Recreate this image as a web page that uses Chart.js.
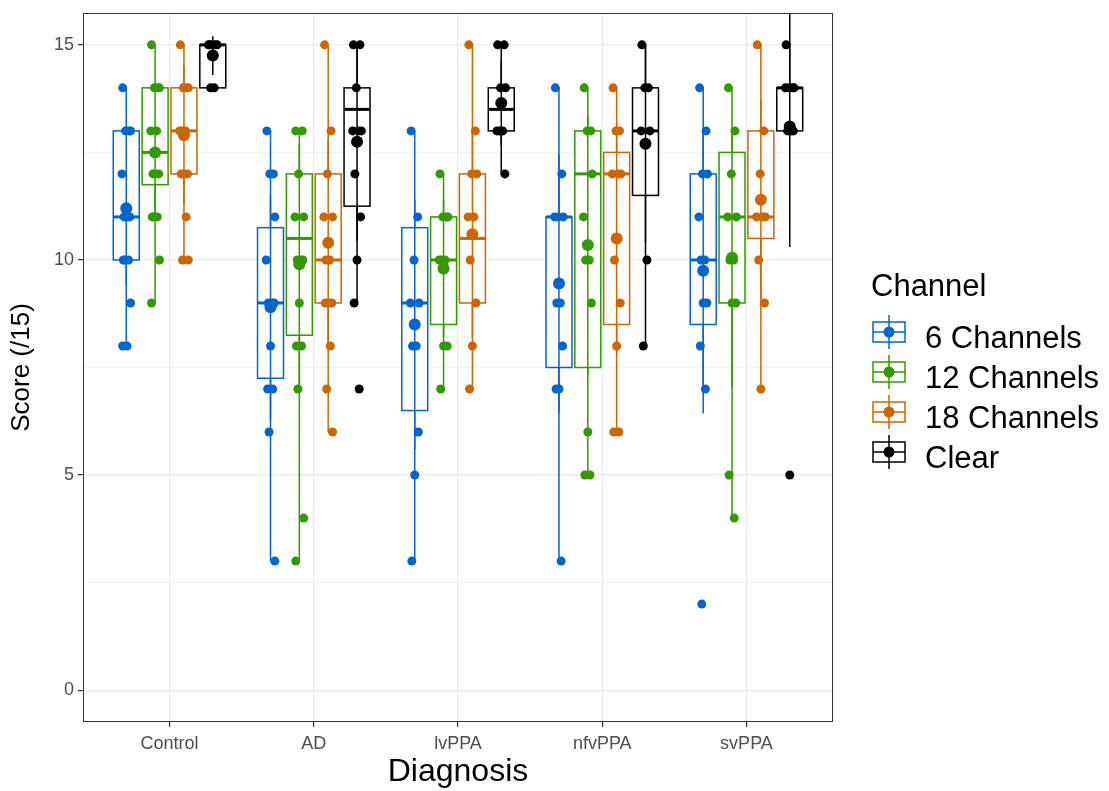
<!DOCTYPE html>
<html>
<head>
<meta charset="utf-8">
<script src="https://cdn.jsdelivr.net/npm/chart.js@4.4.1/dist/chart.umd.min.js"></script>
<style>
  body { margin: 0; background: #fff; font-family: "Liberation Sans", Arial, sans-serif; }
  #wrap { position: relative; width: 1109px; height: 791px; }
  #legend { position: absolute; left: 0; top: 0; }
  .lg-title, .lg-text { position: absolute; font-size: 31px; line-height: 31px; color: #000; white-space: nowrap; }
  .lg-key { position: absolute; }
</style>
</head>
<body>
<div id="wrap">
  <canvas id="chart" width="1109" height="791"></canvas>
  <div id="legend"></div>
</div>
<script>
const diagnoses = ["Control", "AD", "lvPPA", "nfvPPA", "svPPA"];
const channels = ["6 Channels", "12 Channels", "18 Channels", "Clear"];
const colors = ["#0066CC", "#339900", "#CC6600", "#000000"];
const yTicks = [0, 2.5, 5, 7.5, 10, 12.5, 15];

// box stats per diagnosis: [lower whisker, q1, median, q3, upper whisker]
const box6     = [[8, 10, 11, 13, 14], [3, 7.25, 9, 10.75, 13], [3, 6.5, 9, 10.75, 13], [3, 7.5, 11, 11, 14], [7, 8.5, 10, 12, 14]];
const box12    = [[9, 11.75, 12.5, 14, 15], [3, 8.25, 10.5, 12, 13], [7, 8.5, 10, 11, 12], [5, 7.5, 12, 13, 14], [4, 9, 11, 12.5, 14]];
const box18    = [[10, 12, 13, 14, 15], [6, 9, 10, 12, 15], [7, 9, 10.5, 12, 15], [6, 8.5, 12, 12.5, 14], [7, 10.5, 11, 13, 15]];
const boxClear = [[14, 14, 15, 15, 15], [9, 11.25, 13.5, 14, 15], [12, 13, 13.5, 14, 15], [8, 11.5, 13, 14, 15], [13, 13, 14, 14, 15]];

// means and mean +/- sd
const mean6     = [11.2, 8.9, 8.5, 9.45, 9.75];
const mean12    = [12.5, 9.9, 9.8, 10.35, 10.05];
const mean18    = [12.9, 10.4, 10.6, 10.5, 11.4];
const meanClear = [14.75, 12.75, 13.65, 12.7, 13.1];
const lo6     = [9.4, 6.3, 5.6, 6.45, 6.43];
const hi6     = [13.0, 11.5, 11.4, 12.45, 13.07];
const lo12    = [11.0, 7.1, 8.2, 7.35, 7.05];
const hi12    = [14.0, 12.7, 11.4, 13.35, 13.05];
const lo18    = [11.3, 8.0, 8.2, 7.8, 9.1];
const hi18    = [14.5, 12.8, 13.0, 13.2, 13.7];
const loClear = [14.3, 10.45, 12.65, 10.4, 10.3];
const hiClear = [15.2, 15.05, 14.65, 15.0, 15.9];

// individual scores
const pts6 = [
  [14, 13, 13, 13, 12, 11, 11, 11, 11, 10, 10, 10, 9, 8, 8],
  [13, 12, 12, 11, 10, 9, 9, 9, 8, 7, 7, 6, 3],
  [13, 11, 10, 9, 9, 8, 8, 6, 5, 3],
  [14, 12, 11, 11, 11, 9, 9, 8, 7, 7, 3],
  [14, 13, 12, 12, 11, 10, 10, 9, 9, 8, 7, 2]
];
const pts12 = [
  [15, 14, 14, 14, 13, 13, 12, 12, 12, 11, 11, 11, 10, 9],
  [13, 13, 12, 11, 11, 10, 10, 10, 9, 8, 8, 7, 4, 3],
  [12, 11, 11, 11, 10, 10, 10, 8, 8, 7],
  [14, 13, 13, 12, 11, 10, 10, 9, 6, 5, 5],
  [14, 13, 12, 11, 11, 10, 10, 9, 9, 5, 4]
];
const pts18 = [
  [15, 14, 14, 14, 13, 13, 13, 12, 12, 12, 11, 10, 10],
  [15, 13, 12, 11, 11, 10, 10, 9, 9, 9, 8, 7, 6],
  [15, 13, 12, 12, 11, 11, 10, 9, 8, 7],
  [14, 13, 13, 12, 12, 12, 10, 9, 8, 6, 6],
  [15, 13, 12, 11, 11, 11, 10, 9, 7]
];
const ptsClear = [
  [15, 15, 15, 15, 15, 14, 14],
  [15, 15, 14, 13, 13, 13, 12, 11, 10, 9, 7],
  [15, 15, 14, 14, 13, 13, 13, 12],
  [15, 14, 14, 13, 13, 10, 8],
  [15, 14, 14, 14, 14, 13, 13, 13, 5]
];

// fixed horizontal jitter pattern (units of x)
const jitter = [-0.025, 0.02, -0.005, 0.03, -0.03, 0.01, -0.015, 0.025, 0.0, -0.02, 0.015, -0.01, 0.03, -0.025, 0.005];
const dodge = [-0.3, -0.1, 0.1, 0.3];
const boxWidth = 0.18;

const series = [
  { box: box6, mean: mean6, lo: lo6, hi: hi6, pts: pts6 },
  { box: box12, mean: mean12, lo: lo12, hi: hi12, pts: pts12 },
  { box: box18, mean: mean18, lo: lo18, hi: hi18, pts: pts18 },
  { box: boxClear, mean: meanClear, lo: loClear, hi: hiClear, pts: ptsClear }
];

const pointSets = series.map((s, c) => ({
  label: channels[c],
  data: s.pts.flatMap((vals, i) => vals.map((v, k) => ({ x: i + 1 + dodge[c] + jitter[k % jitter.length], y: v }))),
  backgroundColor: colors[c],
  borderWidth: 0,
  pointRadius: 4.5
}));
const meanSets = series.map((s, c) => ({
  label: channels[c] + " mean",
  data: s.mean.map((m, i) => ({ x: i + 1 + dodge[c], y: m })),
  backgroundColor: colors[c],
  borderWidth: 0,
  pointRadius: 6
}));

const boxPlugin = {
  id: "boxes",
  beforeDatasetsDraw(chart) {
    const { ctx, chartArea, scales: { x, y } } = chart;
    ctx.save();
    ctx.beginPath();
    ctx.rect(chartArea.left, chartArea.top, chartArea.width, chartArea.height);
    ctx.clip();
    series.forEach((s, c) => {
      s.box.forEach((b, i) => {
        const [lo, q1, med, q3, hi] = b;
        const pos = i + 1 + dodge[c];
        const cx = x.getPixelForValue(pos);
        const x0 = x.getPixelForValue(pos - boxWidth / 2);
        const x1 = x.getPixelForValue(pos + boxWidth / 2);
        ctx.strokeStyle = colors[c];
        ctx.lineWidth = 1.5;
        ctx.beginPath();
        ctx.moveTo(cx, y.getPixelForValue(lo));
        ctx.lineTo(cx, y.getPixelForValue(q1));
        ctx.moveTo(cx, y.getPixelForValue(q3));
        ctx.lineTo(cx, y.getPixelForValue(hi));
        ctx.stroke();
        const yt = y.getPixelForValue(q3), yb = y.getPixelForValue(q1);
        ctx.fillStyle = "#fff";
        ctx.fillRect(x0, yt, x1 - x0, yb - yt);
        ctx.strokeRect(x0, yt, x1 - x0, yb - yt);
        ctx.lineWidth = 3;
        ctx.beginPath();
        ctx.moveTo(x0, y.getPixelForValue(med));
        ctx.lineTo(x1, y.getPixelForValue(med));
        ctx.stroke();
        // mean +/- sd
        ctx.lineWidth = 1.5;
        ctx.beginPath();
        ctx.moveTo(cx, y.getPixelForValue(s.lo[i]));
        ctx.lineTo(cx, y.getPixelForValue(s.hi[i]));
        ctx.stroke();
      });
    });
    ctx.restore();
  },
  afterDraw(chart) {
    const { ctx, chartArea } = chart;
    ctx.save();
    ctx.strokeStyle = "#333333";
    ctx.lineWidth = 1;
    ctx.strokeRect(chartArea.left + 0.5, chartArea.top + 0.5, chartArea.width - 1, chartArea.height - 1);
    ctx.restore();
  }
};

new Chart(document.getElementById("chart"), {
  type: "scatter",
  data: { datasets: [...pointSets, ...meanSets] },
  options: {
    responsive: false,
    animation: false,
    layout: { padding: { top: 12, right: 276, left: 0, bottom: 0 } },
    plugins: { legend: { display: false }, tooltip: { enabled: false } },
    scales: {
      x: {
        type: "linear",
        min: 0.4,
        max: 5.6,
        afterBuildTicks: (axis) => { axis.ticks = diagnoses.map((d, i) => ({ value: i + 1 })); },
        afterFit: (axis) => { axis.height = 69; },
        ticks: {
          autoSkip: false,
          maxRotation: 0,
          padding: 6,
          color: "#4d4d4d",
          font: { family: "Liberation Sans", size: 18 },
          callback: (v) => diagnoses[v - 1]
        },
        grid: { color: "#ebebeb", lineWidth: 1.2, tickLength: 5, tickColor: "#333333" },
        border: { display: false },
        title: {
          display: true,
          text: "Diagnosis",
          color: "#000",
          font: { family: "Liberation Sans", size: 32 },
          padding: { top: 0, bottom: 0 }
        }
      },
      y: {
        min: -0.74,
        max: 15.74,
        afterBuildTicks: (axis) => { axis.ticks = yTicks.map((v) => ({ value: v })); },
        afterFit: (axis) => { axis.width = 83; },
        ticks: {
          autoSkip: false,
          padding: 4,
          color: "#4d4d4d",
          font: { family: "Liberation Sans", size: 18, lineHeight: 1 },
          callback: (v) => (v % 5 === 0 ? v : "")
        },
        grid: {
          color: "#ebebeb",
          lineWidth: (ctx) => (ctx.tick && ctx.tick.value % 5 === 0 ? 1.2 : 0.6),
          tickLength: 5,
          tickColor: (ctx) => (ctx.tick && ctx.tick.value % 5 === 0 ? "#333333" : "rgba(0,0,0,0)")
        },
        border: { display: false },
        title: {
          display: true,
          text: "Score (/15)",
          color: "#000",
          font: { family: "Liberation Sans", size: 26 },
          padding: { top: 6, bottom: 0 }
        }
      }
    }
  },
  plugins: [boxPlugin]
});

// legend
const legend = document.getElementById("legend");
const title = document.createElement("div");
title.className = "lg-title";
title.style.left = "871px";
title.style.top = "270px";
title.textContent = "Channel";
legend.appendChild(title);
channels.forEach((name, c) => {
  const top = 315 + c * 40;
  const col = colors[c];
  const key = document.createElement("div");
  key.className = "lg-key";
  key.style.left = "871px";
  key.style.top = top + "px";
  key.innerHTML =
    '<svg width="36" height="34" xmlns="http://www.w3.org/2000/svg">' +
    '<line x1="18" y1="0" x2="18" y2="34" stroke="' + col + '" stroke-width="1.5"/>' +
    '<rect x="2" y="7" width="32" height="20" fill="none" stroke="' + col + '" stroke-width="1.5"/>' +
    '<line x1="2" y1="17" x2="34" y2="17" stroke="' + col + '" stroke-width="1.5"/>' +
    '<circle cx="18" cy="17" r="5.5" fill="' + col + '"/></svg>';
  legend.appendChild(key);
  const txt = document.createElement("div");
  txt.className = "lg-text";
  txt.style.left = "925px";
  txt.style.top = (top + 7) + "px";
  txt.textContent = name;
  legend.appendChild(txt);
});
</script>
</body>
</html>
